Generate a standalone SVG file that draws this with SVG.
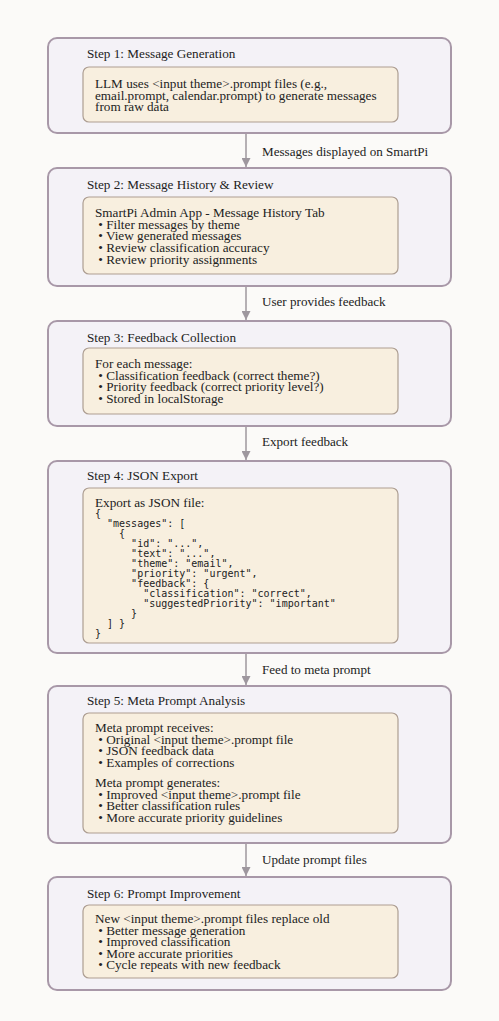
<svg xmlns="http://www.w3.org/2000/svg" width="499" height="1021" viewBox="0 0 499 1021">
<defs>
<style>
.bg{fill:#fbfaf8}
.outer{fill:#f4f2f7;stroke:#a898a8;stroke-width:2}
.inner{fill:#f8efdf;stroke:#ad9e92;stroke-width:1.2}
.t{font-family:"Liberation Serif","Times New Roman",serif;font-size:13.2px;fill:#222;white-space:pre}
.m{font-family:"DejaVu Sans Mono","Liberation Mono",monospace;font-size:10px;fill:#222;white-space:pre}
.edge{stroke:#9e979e;stroke-width:1.5;fill:none}
.lbl{font-family:"Liberation Serif","Times New Roman",serif;font-size:13.1px;fill:#222}
</style>
<marker id="arr" viewBox="0 0 10 10" refX="10" refY="5" markerWidth="9" markerHeight="9" markerUnits="userSpaceOnUse" orient="auto">
<path d="M0,0 L10,5 L0,10 z" fill="#9e979e"/>
</marker>
</defs>
<rect class="bg" x="0" y="0" width="499" height="1021"/>

<g id="connectors">
<line class="edge" x1="246" y1="133" x2="246" y2="167" marker-end="url(#arr)"/>
<text class="lbl" x="262" y="156">Messages displayed on SmartPi</text>
<line class="edge" x1="246" y1="286" x2="246" y2="320" marker-end="url(#arr)"/>
<text class="lbl" x="262" y="306">User provides feedback</text>
<line class="edge" x1="246" y1="426" x2="246" y2="460" marker-end="url(#arr)"/>
<text class="lbl" x="262" y="446">Export feedback</text>
<line class="edge" x1="246" y1="653" x2="246" y2="685" marker-end="url(#arr)"/>
<text class="lbl" x="262" y="674">Feed to meta prompt</text>
<line class="edge" x1="246" y1="843" x2="246" y2="876" marker-end="url(#arr)"/>
<text class="lbl" x="262" y="864">Update prompt files</text>
</g>

<g id="step1">
<rect class="outer" x="48" y="38" width="403" height="95" rx="9"/>
<text class="t" x="87" y="58">Step 1: Message Generation</text>
<rect class="inner" x="83" y="67" width="315" height="55" rx="6"/>
<text class="t" x="95" y="88">LLM uses &lt;input theme&gt;.prompt files (e.g.,</text>
<text class="t" x="95" y="99.5">email.prompt, calendar.prompt) to generate messages</text>
<text class="t" x="95" y="111">from raw data</text>
</g>

<g id="step2">
<rect class="outer" x="48" y="168" width="403" height="118" rx="9"/>
<text class="t" x="87" y="189">Step 2: Message History &amp; Review</text>
<rect class="inner" x="83" y="197" width="315" height="77" rx="6"/>
<text class="t" x="95" y="217">SmartPi Admin App - Message History Tab</text>
<text class="t" x="95" y="228.7"> • Filter messages by theme</text>
<text class="t" x="95" y="240.4"> • View generated messages</text>
<text class="t" x="95" y="252.1"> • Review classification accuracy</text>
<text class="t" x="95" y="263.8"> • Review priority assignments</text>
</g>

<g id="step3">
<rect class="outer" x="48" y="321" width="403" height="105" rx="9"/>
<text class="t" x="87" y="342">Step 3: Feedback Collection</text>
<rect class="inner" x="83" y="348" width="315" height="66" rx="6"/>
<text class="t" x="95" y="368">For each message:</text>
<text class="t" x="95" y="379.6"> • Classification feedback (correct theme?)</text>
<text class="t" x="95" y="391.2"> • Priority feedback (correct priority level?)</text>
<text class="t" x="95" y="402.8"> • Stored in localStorage</text>
</g>

<g id="step4">
<rect class="outer" x="48" y="461" width="403" height="192" rx="9"/>
<text class="t" x="87" y="480">Step 4: JSON Export</text>
<rect class="inner" x="83" y="488" width="315" height="155" rx="6"/>
<text class="t" x="95" y="507">Export as JSON file:</text>
<text class="m" x="95" y="517">{</text>
<text class="m" x="95" y="527">  "messages": [</text>
<text class="m" x="95" y="537">    {</text>
<text class="m" x="95" y="547">      "id": "...",</text>
<text class="m" x="95" y="557">      "text": "...",</text>
<text class="m" x="95" y="567">      "theme": "email",</text>
<text class="m" x="95" y="577">      "priority": "urgent",</text>
<text class="m" x="95" y="587">      "feedback": {</text>
<text class="m" x="95" y="597">        "classification": "correct",</text>
<text class="m" x="95" y="607">        "suggestedPriority": "important"</text>
<text class="m" x="95" y="617">      }</text>
<text class="m" x="95" y="627">  ] }</text>
<text class="m" x="95" y="637">}</text>
</g>

<g id="step5">
<rect class="outer" x="48" y="686" width="403" height="157" rx="9"/>
<text class="t" x="87" y="705">Step 5: Meta Prompt Analysis</text>
<rect class="inner" x="83" y="713" width="315" height="120" rx="6"/>
<text class="t" x="95" y="732">Meta prompt receives:</text>
<text class="t" x="95" y="743.5"> • Original &lt;input theme&gt;.prompt file</text>
<text class="t" x="95" y="755"> • JSON feedback data</text>
<text class="t" x="95" y="766.5"> • Examples of corrections</text>
<text class="t" x="95" y="787">Meta prompt generates:</text>
<text class="t" x="95" y="798.5"> • Improved &lt;input theme&gt;.prompt file</text>
<text class="t" x="95" y="810"> • Better classification rules</text>
<text class="t" x="95" y="821.5"> • More accurate priority guidelines</text>
</g>

<g id="step6">
<rect class="outer" x="48" y="877" width="403" height="113" rx="9"/>
<text class="t" x="87" y="898">Step 6: Prompt Improvement</text>
<rect class="inner" x="83" y="905" width="315" height="73" rx="6"/>
<text class="t" x="95" y="923">New &lt;input theme&gt;.prompt files replace old</text>
<text class="t" x="95" y="934.6"> • Better message generation</text>
<text class="t" x="95" y="946.2"> • Improved classification</text>
<text class="t" x="95" y="957.8"> • More accurate priorities</text>
<text class="t" x="95" y="969.4"> • Cycle repeats with new feedback</text>
</g>
</svg>
